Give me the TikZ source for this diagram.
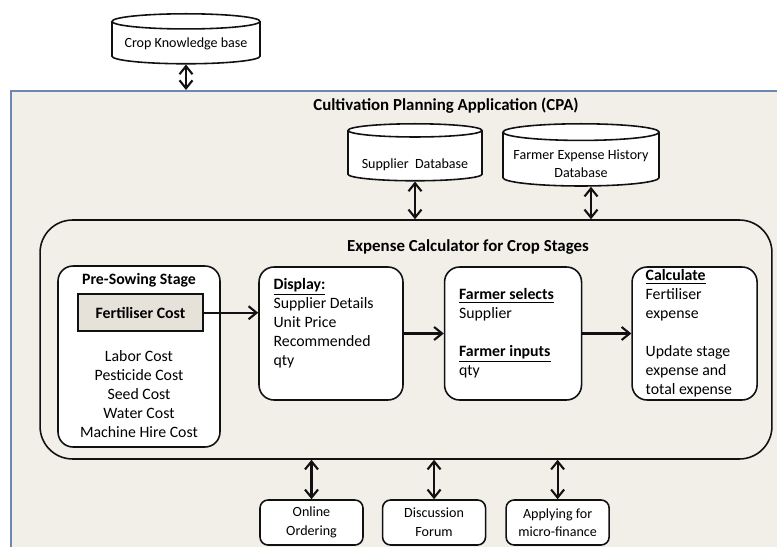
\documentclass[tikz,border=0pt]{standalone}
\usepackage{fontspec}
\setmainfont{Carlito}
\usetikzlibrary{arrows.meta,positioning,shapes.geometric,calc}
\definecolor{ink}{HTML}{111111}
\definecolor{paper}{HTML}{F1EFE8}
\definecolor{frameblue}{HTML}{6A88B2}
\definecolor{fertfill}{HTML}{E6E2DA}
\tikzset{
  db/.style={cylinder, shape border rotate=90, aspect=0.12, draw=ink, line width=0.9pt, fill=white, align=center, inner sep=1pt, font=\fontsize{8}{10.2}\selectfont},
  cpabox/.style={draw=frameblue, line width=1pt, fill=paper},
  calcbox/.style={draw=ink, line width=0.9pt, rounded corners=0.65cm, fill=paper},
  stagebox/.style={draw=ink, line width=0.9pt, rounded corners=0.3cm, fill=white},
  fertbox/.style={draw=ink, line width=0.9pt, fill=fertfill, minimum width=2.5cm, minimum height=0.74cm, font=\bfseries\fontsize{9}{10.8}\selectfont},
  smallbox/.style={draw=ink, line width=0.9pt, rounded corners=0.16cm, fill=white, align=center, minimum width=2.06cm, minimum height=0.9cm, inner sep=1pt, font=\fontsize{8}{10.6}\selectfont},
  txt/.style={align=left, inner sep=0pt, font=\fontsize{9}{10.8}\selectfont},
  head/.style={inner sep=0pt, font=\bfseries\fontsize{9}{10.8}\selectfont},
  title/.style={inner sep=0pt, font=\bfseries\fontsize{9.6}{11}\selectfont},
  arrow/.style={-{Straight Barb[length=1.6mm,width=2.6mm]}, line width=1.2pt, draw=ink},
  dblarrow/.style={{Straight Barb[length=1.6mm,width=2.6mm]}-{Straight Barb[length=1.6mm,width=2.6mm]}, line width=1.2pt, draw=ink}
}
\begin{document}
\begin{tikzpicture}[x=0.02cm, y=-0.02cm]
\useasboundingbox (0,0) rectangle (777,547);
\clip (0,0) rectangle (777,547);
\node[db, anchor=north, minimum width=2.96cm, minimum height=1cm] (ckb) at (186,13) {Crop Knowledge base};
\node[cpabox, anchor=north west, minimum width=16cm, minimum height=10cm] (cpa) at (10,90) {};
\node[title] (cpattl) at (446,106) {Cultivation Planning Application (CPA)};
\node[db, anchor=north, minimum width=2.68cm, minimum height=1.14cm] (sdb) at (415,123) {\rule{0pt}{15pt}Supplier~ Database};
\node[db, anchor=north, minimum width=3.12cm, minimum height=1.14cm] (fedb) at (581,123) {\rule{0pt}{9.5pt}Farmer Expense History\\Database};
\node[calcbox, minimum width=14.64cm, minimum height=4.78cm] (calc) at (406,339.5) {};
\node[title] (calcttl) at (468,247) {Expense Calculator for Crop Stages};
% stage row
\node[stagebox, minimum width=3.24cm, minimum height=3.62cm] (pre) at (139,356.5) {};
\node[head] (prettl) at ($(pre.north)+(0,15)$) {Pre-Sowing Stage};
\node[fertbox] (fert) at ($(pre.north)+(1.5,47.5)$) {Fertiliser Cost};
\node[txt, align=center] (costs) at ($(pre.north)+(0,129)$) {Labor Cost\\Pesticide Cost\\Seed Cost\\Water Cost\\Machine Hire Cost};
\node[stagebox, minimum width=2.88cm, minimum height=2.66cm] (disp) at (331,333.5) {};
\node[txt, anchor=west] (disptxt) at ($(disp.north west)+(15,57)$) {\underline{\textbf{Display:}}\\Supplier Details\\Unit Price\\Recommended\\qty};
\node[stagebox, right=0.8cm of disp, minimum width=2.74cm, minimum height=2.66cm] (sel) {};
\node[txt, anchor=west] (seltxt) at ($(sel.west)+(15,0)$) {\underline{\textbf{Farmer selects}}\\Supplier\\[10.8pt]\underline{\textbf{Farmer inputs}}\\qty};
\node[stagebox, right=0.98cm of sel, minimum width=2.5cm, minimum height=2.66cm] (calcb) {};
\node[txt, anchor=west] (calctxt) at ($(calcb.west)+(14,0)$) {\underline{\textbf{Calculate}}\\Fertiliser\\expense\\[10.8pt]Update stage\\expense and\\total expense};
% bottom services
\node[smallbox] (oo) at (311.5,522.5) {Online\\Ordering};
\node[smallbox, right=0.36cm of oo] (df) {Discussion\\Forum};
\node[smallbox, right=0.38cm of df] (amf) {Applying for\\micro-finance};
\draw[dblarrow] (ckb.south) -- (ckb.south |- cpa.north);
\draw[dblarrow] (sdb.south) -- (sdb.south |- calc.north);
\draw[dblarrow] ([xshift=0.2cm]fedb.south) -- ([xshift=0.2cm]fedb.south |- calc.north);
\draw[arrow] (fert.east) -- (fert.east -| disp.west);
\draw[arrow] (disp) -- (sel);
\draw[arrow] (sel) -- (calcb);
\foreach \b in {oo,df,amf}
  \draw[dblarrow] (\b.north |- calc.south) -- (\b.north);
\end{tikzpicture}
\end{document}
